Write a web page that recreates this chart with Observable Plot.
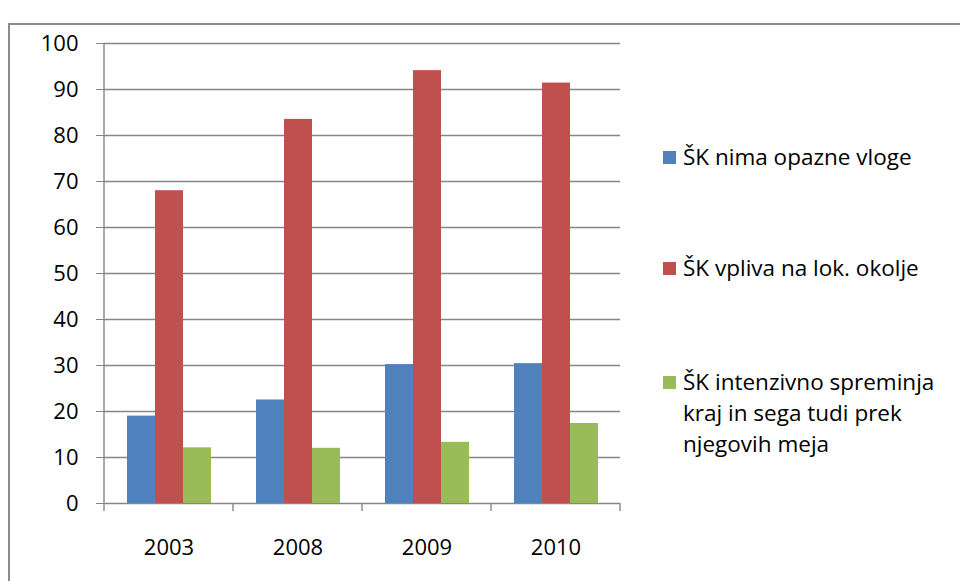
<!DOCTYPE html>
<html><head><meta charset="utf-8">
<script src="https://cdn.jsdelivr.net/npm/d3@7"></script>
<script src="https://cdn.jsdelivr.net/npm/@observablehq/plot@0.6"></script>
<style>
body{margin:0;background:#fff;font-family:"Open Sans",sans-serif;}
#wrap{position:relative;width:960px;height:581px;overflow:hidden;background:#fff;}
#border{position:absolute;left:8px;top:23px;width:1000px;height:700px;border-left:2px solid #8c8c8c;border-top:2px solid #8c8c8c;}
#chart{position:absolute;left:0;top:0;}
.leg{position:absolute;left:663px;font-size:22.5px;line-height:31px;color:#000;white-space:nowrap;}
.leg .sw{position:absolute;left:0;top:10px;width:13px;height:13px;}
.leg .tx{margin-left:20px;}
</style></head><body>
<div id="wrap"><div id="border"></div><div id="chart"></div><div id="legend"></div></div>
<script>
const years = ["2003", "2008", "2009", "2010"];
const series = ["ŠK nima opazne vloge", "ŠK vpliva na lok. okolje", "ŠK intenzivno spreminja kraj in sega tudi prek njegovih meja"];
const legendLines = [["ŠK nima opazne vloge"], ["ŠK vpliva na lok. okolje"], ["ŠK intenzivno spreminja", "kraj in sega tudi prek", "njegovih meja"]];
const nimaVloge = [19.0, 22.5, 30.2, 30.4];
const vplivaOkolje = [68.0, 83.5, 94.1, 91.4];
const intenzivno = [12.1, 12.0, 13.3, 17.4];
const colors = ["#4F81BD", "#C0504D", "#9BBB59"];
const yTicks = [0, 10, 20, 30, 40, 50, 60, 70, 80, 90, 100];

const seriesValues = [nimaVloge, vplivaOkolje, intenzivno];
const table = [];
years.forEach((yr, i) => series.forEach((s, j) => table.push({year: yr, series: s, value: seriesValues[j][i]})));

const chart = Plot.plot({
  width: 960, height: 581,
  marginTop: 43, marginBottom: 78, marginLeft: 103, marginRight: 340,
  style: {fontFamily: "'Open Sans', sans-serif", fontSize: "22px", color: "#000", background: "transparent"},
  fx: {domain: years, paddingInner: 0, paddingOuter: 0, label: null},
  x: {domain: series, paddingInner: 0, paddingOuter: 0.75, axis: null},
  y: {domain: [0, 100], label: null},
  color: {domain: series, range: colors},
  marks: [
    Plot.ruleY(yTicks, {stroke: "#868686", strokeWidth: 1.4}),
    Plot.barY(table, {fx: "year", x: "series", y: "value", fill: "series", inset: 0}),
    Plot.axisY({ticks: yTicks, tickSize: 8, tickPadding: 18, stroke: "#868686", label: null, fontSize: 22, fill: "#000"}),
    Plot.axisFx({anchor: "bottom", tickSize: 0, tickPadding: 36, label: null, fontSize: 22, fill: "#000"})
  ]
});
document.getElementById("chart").appendChild(chart);

// Axis line and category boundary ticks, positioned by the plot's own scales
const fxs = chart.scale("fx");
const ys = chart.scale("y");
const y0 = ys.apply(0), y100 = ys.apply(100);
const g = d3.select(chart).append("g").attr("stroke", "#868686").attr("stroke-width", 1.4);
const x0 = fxs.apply(years[0]);
g.append("line").attr("x1", x0).attr("x2", x0).attr("y1", y100).attr("y2", y0);
const bounds = years.map(y => fxs.apply(y)).concat([fxs.apply(years[years.length - 1]) + fxs.bandwidth]);
bounds.forEach(b => g.append("line").attr("x1", b).attr("x2", b).attr("y1", y0).attr("y2", y0 + 8));

// Legend
const legTops = [141, 252, 366];
const legend = document.getElementById("legend");
legendLines.forEach((lines, i) => {
  const d = document.createElement("div");
  d.className = "leg";
  d.style.top = legTops[i] + "px";
  const sw = document.createElement("div");
  sw.className = "sw";
  sw.style.background = colors[i];
  d.appendChild(sw);
  const tx = document.createElement("div");
  tx.className = "tx";
  tx.innerHTML = lines.join("<br>");
  d.appendChild(tx);
  legend.appendChild(d);
});
</script>
</body></html>
